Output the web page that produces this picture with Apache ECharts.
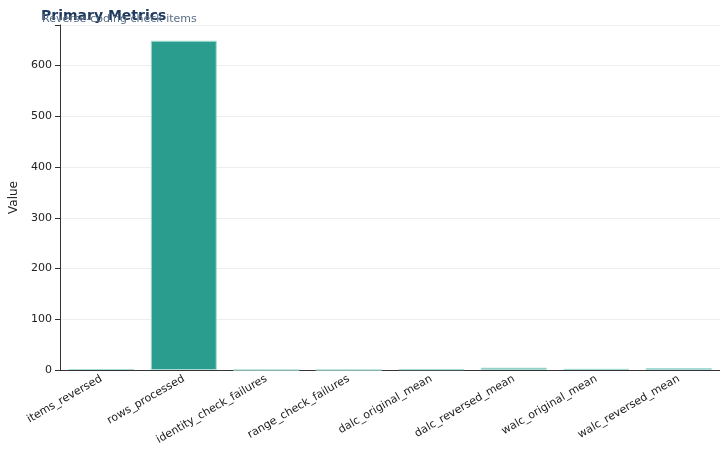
<!DOCTYPE html><html><head><meta charset="utf-8">
<script src="https://cdn.jsdelivr.net/npm/echarts@6/dist/echarts.min.js"></script>
<style>html,body{margin:0;background:#fff}#c{width:720px;height:460px}</style></head><body><div id="c"></div>
<script>
const categories=["items_reversed","rows_processed","identity_check_failures","range_check_failures","dalc_original_mean","dalc_reversed_mean","walc_original_mean","walc_reversed_mean"];
const values=[2,649,0,0,1.48,4.52,2.28,3.72];
const yTicks=[0,100,200,300,400,500,600];
const c=echarts.init(document.getElementById('c'));
c.setOption({
 animation:false,
 title:[{text:"Primary Metrics",left:36,top:4,textStyle:{fontFamily:"DejaVu Sans",fontSize:14,fontWeight:"bold",color:"#1f3a5f"}},
        {text:"Reverse-coding check items",left:37,top:9,textStyle:{fontFamily:"DejaVu Sans",fontSize:11,fontWeight:"normal",color:"#5a6e85"}}],
 grid:{left:37,right:0,top:25,bottom:90},
 xAxis:{type:"category",data:categories,axisLine:{lineStyle:{color:"#333"}},axisTick:{alignWithLabel:true,lineStyle:{color:"#333"}},
  axisLabel:{rotate:30,interval:0,fontFamily:"DejaVu Sans",fontSize:11,color:"#222",margin:8}},
 yAxis:{type:"value",min:0,max:680,interval:100,name:"Value",nameLocation:"middle",nameGap:40,nameTextStyle:{fontFamily:"DejaVu Sans",fontSize:12,color:"#222"},
  axisLine:{show:true,lineStyle:{color:"#333"}},axisTick:{show:true,lineStyle:{color:"#333"}},
  axisLabel:{fontFamily:"DejaVu Sans",fontSize:11,color:"#222",formatter:v=>yTicks.includes(v)?String(v):""},
  splitLine:{lineStyle:{color:"#eee"}}},
 series:[{type:"bar",data:values,barWidth:"80%",itemStyle:{color:"#2a9d8f",borderColor:"#a8dcd5",borderWidth:1}}]
});
</script></body></html>
